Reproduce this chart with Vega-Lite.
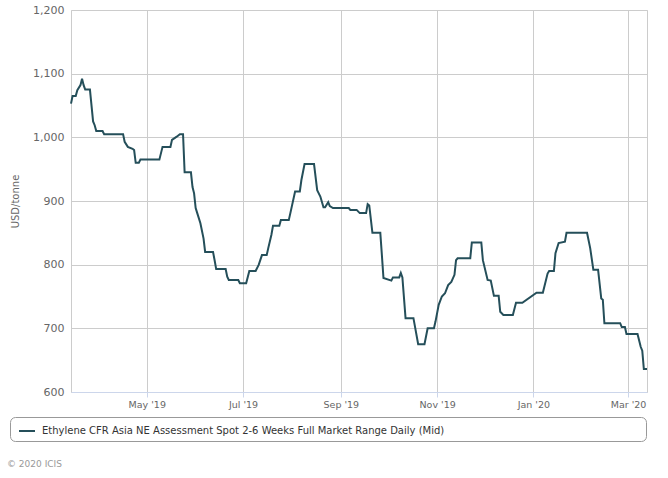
{
  "$schema": "https://vega.github.io/schema/vega-lite/v6.json",
  "width": 576,
  "height": 382,
  "autosize": {"type": "none"},
  "padding": {"left": 71, "top": 10, "right": 21, "bottom": 86},
  "background": "white",
  "config": {"font": "DejaVu Sans", "view": {"stroke": "#cccccc"}},
  "title": {"text": "© 2020 ICIS", "orient": "bottom", "anchor": "start", "frame": "group", "offset": 18, "dx": -64, "fontSize": 9, "fontWeight": "normal", "color": "#999999", "baseline": "top"},
  "data": {"values": [
    {"date": "2019-03-14", "price": 1053},
    {"date": "2019-03-15", "price": 1065},
    {"date": "2019-03-17", "price": 1065},
    {"date": "2019-03-18", "price": 1074},
    {"date": "2019-03-20", "price": 1082},
    {"date": "2019-03-21", "price": 1092},
    {"date": "2019-03-22", "price": 1082},
    {"date": "2019-03-23", "price": 1075},
    {"date": "2019-03-26", "price": 1075},
    {"date": "2019-03-28", "price": 1025},
    {"date": "2019-03-29", "price": 1019},
    {"date": "2019-03-30", "price": 1010},
    {"date": "2019-04-03", "price": 1010},
    {"date": "2019-04-04", "price": 1005},
    {"date": "2019-04-16", "price": 1005},
    {"date": "2019-04-17", "price": 993},
    {"date": "2019-04-19", "price": 985},
    {"date": "2019-04-22", "price": 982},
    {"date": "2019-04-23", "price": 980},
    {"date": "2019-04-24", "price": 960},
    {"date": "2019-04-26", "price": 960},
    {"date": "2019-04-27", "price": 965},
    {"date": "2019-05-09", "price": 965},
    {"date": "2019-05-11", "price": 985},
    {"date": "2019-05-16", "price": 985},
    {"date": "2019-05-17", "price": 996},
    {"date": "2019-05-20", "price": 1001},
    {"date": "2019-05-22", "price": 1005},
    {"date": "2019-05-24", "price": 1005},
    {"date": "2019-05-25", "price": 945},
    {"date": "2019-05-29", "price": 945},
    {"date": "2019-05-30", "price": 922},
    {"date": "2019-05-31", "price": 912},
    {"date": "2019-06-01", "price": 889},
    {"date": "2019-06-02", "price": 881},
    {"date": "2019-06-04", "price": 865},
    {"date": "2019-06-06", "price": 841},
    {"date": "2019-06-07", "price": 820},
    {"date": "2019-06-12", "price": 820},
    {"date": "2019-06-13", "price": 807},
    {"date": "2019-06-14", "price": 793},
    {"date": "2019-06-20", "price": 793},
    {"date": "2019-06-21", "price": 781},
    {"date": "2019-06-22", "price": 776},
    {"date": "2019-06-28", "price": 776},
    {"date": "2019-06-29", "price": 771},
    {"date": "2019-07-03", "price": 771},
    {"date": "2019-07-05", "price": 790},
    {"date": "2019-07-09", "price": 790},
    {"date": "2019-07-11", "price": 800},
    {"date": "2019-07-13", "price": 815},
    {"date": "2019-07-16", "price": 815},
    {"date": "2019-07-17", "price": 826},
    {"date": "2019-07-19", "price": 847},
    {"date": "2019-07-20", "price": 861},
    {"date": "2019-07-24", "price": 861},
    {"date": "2019-07-25", "price": 870},
    {"date": "2019-07-30", "price": 870},
    {"date": "2019-07-31", "price": 881},
    {"date": "2019-08-03", "price": 915},
    {"date": "2019-08-06", "price": 915},
    {"date": "2019-08-07", "price": 933},
    {"date": "2019-08-09", "price": 958},
    {"date": "2019-08-15", "price": 958},
    {"date": "2019-08-17", "price": 917},
    {"date": "2019-08-18", "price": 912},
    {"date": "2019-08-19", "price": 907},
    {"date": "2019-08-21", "price": 890},
    {"date": "2019-08-22", "price": 890},
    {"date": "2019-08-24", "price": 898},
    {"date": "2019-08-25", "price": 892},
    {"date": "2019-08-27", "price": 889},
    {"date": "2019-09-06", "price": 889},
    {"date": "2019-09-07", "price": 886},
    {"date": "2019-09-11", "price": 886},
    {"date": "2019-09-13", "price": 881},
    {"date": "2019-09-17", "price": 881},
    {"date": "2019-09-18", "price": 895},
    {"date": "2019-09-19", "price": 893},
    {"date": "2019-09-21", "price": 850},
    {"date": "2019-09-26", "price": 850},
    {"date": "2019-09-27", "price": 815},
    {"date": "2019-09-28", "price": 779},
    {"date": "2019-10-03", "price": 775},
    {"date": "2019-10-04", "price": 780},
    {"date": "2019-10-08", "price": 780},
    {"date": "2019-10-09", "price": 787},
    {"date": "2019-10-10", "price": 780},
    {"date": "2019-10-12", "price": 716},
    {"date": "2019-10-17", "price": 716},
    {"date": "2019-10-20", "price": 675},
    {"date": "2019-10-24", "price": 675},
    {"date": "2019-10-26", "price": 700},
    {"date": "2019-10-30", "price": 700},
    {"date": "2019-10-31", "price": 711},
    {"date": "2019-11-02", "price": 737},
    {"date": "2019-11-04", "price": 750},
    {"date": "2019-11-06", "price": 755},
    {"date": "2019-11-08", "price": 768},
    {"date": "2019-11-10", "price": 773},
    {"date": "2019-11-12", "price": 784},
    {"date": "2019-11-13", "price": 807},
    {"date": "2019-11-14", "price": 810},
    {"date": "2019-11-22", "price": 810},
    {"date": "2019-11-23", "price": 835},
    {"date": "2019-11-29", "price": 835},
    {"date": "2019-11-30", "price": 807},
    {"date": "2019-12-03", "price": 776},
    {"date": "2019-12-05", "price": 775},
    {"date": "2019-12-07", "price": 751},
    {"date": "2019-12-10", "price": 751},
    {"date": "2019-12-11", "price": 726},
    {"date": "2019-12-13", "price": 721},
    {"date": "2019-12-19", "price": 721},
    {"date": "2019-12-21", "price": 740},
    {"date": "2019-12-25", "price": 740},
    {"date": "2020-01-03", "price": 756},
    {"date": "2020-01-07", "price": 756},
    {"date": "2020-01-10", "price": 786},
    {"date": "2020-01-11", "price": 790},
    {"date": "2020-01-14", "price": 790},
    {"date": "2020-01-15", "price": 818},
    {"date": "2020-01-17", "price": 834},
    {"date": "2020-01-21", "price": 836},
    {"date": "2020-01-22", "price": 850},
    {"date": "2020-02-04", "price": 850},
    {"date": "2020-02-06", "price": 826},
    {"date": "2020-02-08", "price": 792},
    {"date": "2020-02-11", "price": 792},
    {"date": "2020-02-13", "price": 747},
    {"date": "2020-02-14", "price": 745},
    {"date": "2020-02-15", "price": 708},
    {"date": "2020-02-25", "price": 708},
    {"date": "2020-02-26", "price": 702},
    {"date": "2020-02-28", "price": 702},
    {"date": "2020-02-29", "price": 691},
    {"date": "2020-03-07", "price": 691},
    {"date": "2020-03-09", "price": 671},
    {"date": "2020-03-10", "price": 665},
    {"date": "2020-03-11", "price": 636},
    {"date": "2020-03-13", "price": 636}
  ]},
  "mark": {"type": "line", "strokeWidth": 2, "interpolate": "linear"},
  "encoding": {
    "x": {
      "field": "date", "type": "temporal",
      "scale": {"type": "utc", "domain": [{"year": 2019, "month": 3, "date": 14, "utc": true}, {"year": 2020, "month": 3, "date": 13, "utc": true}]},
      "axis": {"title": null, "labelExpr": "utcFormat(datum.value, \"%b '%y\")", "tickCount": {"interval": "month", "step": 2}, "grid": true, "gridColor": "#cccccc", "domainColor": "#ccd6eb", "tickColor": "#ccd6eb", "tickSize": 5, "labelPadding": 2, "labelFontSize": 9.5, "labelColor": "#666666", "labelFlush": false, "labelOverlap": false}
    },
    "y": {
      "field": "price", "type": "quantitative",
      "scale": {"domain": [600, 1200], "nice": false, "zero": false},
      "axis": {"title": "USD/tonne", "values": [600, 700, 800, 900, 1000, 1100, 1200], "labelExpr": "datum.value >= 1000 ? '1,' + substring(toString(datum.value), 1) : toString(datum.value)", "grid": true, "gridColor": "#cccccc", "domain": false, "ticks": false, "labelPadding": 7, "labelFontSize": 11, "labelColor": "#666666", "titleFontSize": 10, "titleColor": "#666666", "titleFontWeight": "normal", "titlePadding": 12}
    },
    "color": {
      "datum": "Ethylene CFR Asia NE Assessment Spot 2-6 Weeks Full Market Range Daily (Mid)",
      "type": "nominal",
      "scale": {"range": ["#254f5a"]},
      "legend": {"orient": "none", "legendX": -61, "legendY": 407, "title": " ", "titleOrient": "right", "titlePadding": 197, "strokeColor": "#999999", "cornerRadius": 5, "padding": 5, "fillColor": "white", "symbolType": "stroke", "symbolSize": 256, "symbolStrokeWidth": 2, "symbolOffset": 3, "labelOffset": 6, "labelFontSize": 10, "labelColor": "#333333", "labelLimit": 600}
    }
  }
}
